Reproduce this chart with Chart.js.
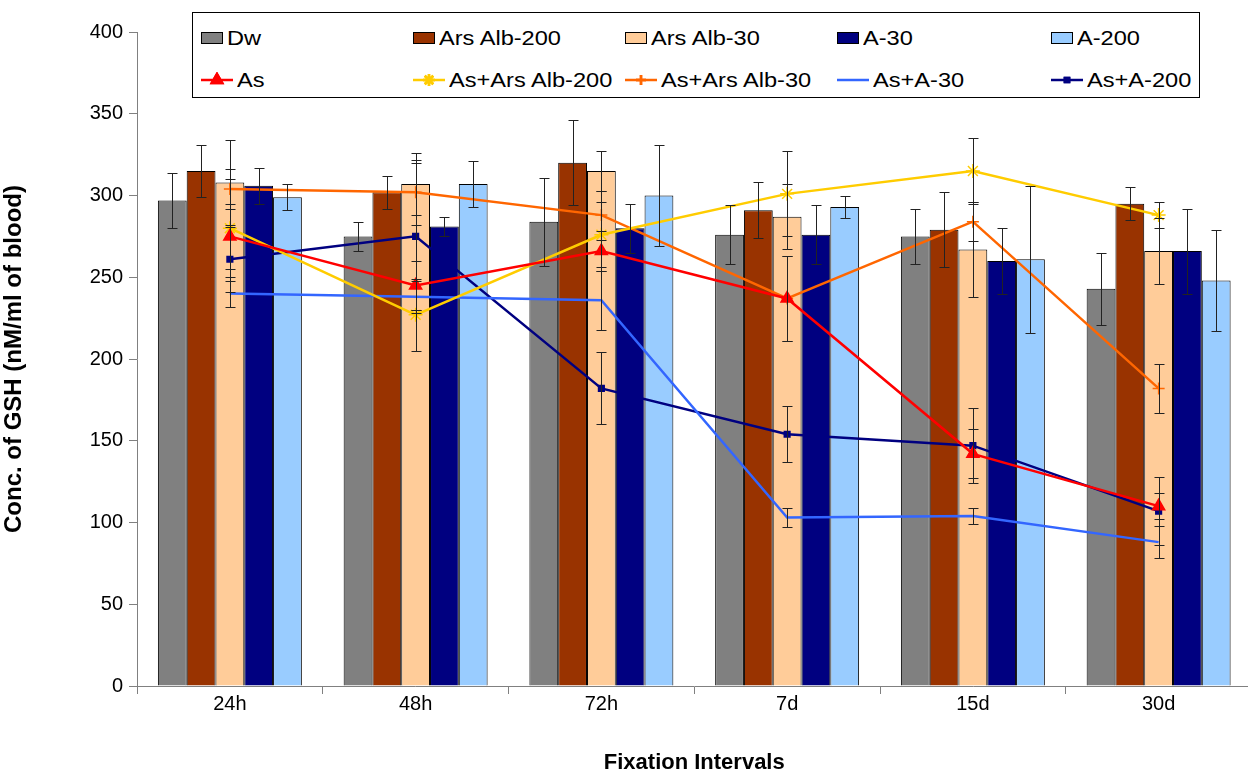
<!DOCTYPE html>
<html>
<head>
<meta charset="utf-8">
<script src="https://cdn.jsdelivr.net/npm/chart.js@4"></script>
<style>
  html, body { margin: 0; padding: 0; background: #fff; overflow: hidden; }
  #wrap { position: relative; width: 1260px; height: 776px; }
  #legend {
    position: absolute; left: 192px; top: 12px; width: 1008px; height: 86px;
    border: 1px solid #000; background: #fff; box-sizing: border-box;
    font-family: "Liberation Sans", Arial, sans-serif; font-size: 20px; color: #000;
  }
  .item { position: absolute; display: flex; align-items: center; height: 22px; white-space: nowrap; }
  .sym { display: inline-block; margin-right: 2px; }
  .txt { display: inline-block; transform: scaleX(1.18); transform-origin: left center; }
</style>
</head>
<body>
<div id="wrap">
  <canvas id="my-chart" width="1260" height="776"></canvas>
  <div id="legend"></div>
</div>
<script>
'use strict';

let categories = ['24h', '48h', '72h', '7d', '15d', '30d'];
let yTicks = [0, 50, 100, 150, 200, 250, 300, 350, 400];

// bar series
let dwValues = [297, 275, 284, 276, 275, 243];
let dwErrors = [17, 9, 27, 18, 17, 22];
let arsAlb200Values = [315, 302, 320, 291, 279, 295];
let arsAlb200Errors = [16, 10, 26, 17, 23, 10];
let arsAlb30Values = [308, 307, 315, 287, 267, 266];
let arsAlb30Errors = [26, 19, 12, 20, 29, 20];
let a30Values = [306, 281, 280, 276, 260, 266];
let a30Errors = [11, 6, 15, 18, 20, 26];
let a200Values = [299, 307, 300, 293, 261, 248];
let a200Errors = [8, 14, 31, 7, 45, 31];

// line series
let asValues = [275, 245, 266, 237, 142, 110];
let asErrors = [20, 15, 12, 26, 15, 8];
let asArsAlb200Values = [280, 227, 276, 301, 315, 288];
let asArsAlb200Errors = [30, 22, 20, 26, 20, 8];
let asArsAlb30Values = [304, 302, 288, 237, 284, 182];
let asArsAlb30Errors = [12, 20, 15, 26, 12, 15];
let asA30Values = [240, 238, 236, 103, 104, 88];
let asA30Errors = [8, 10, 18, 6, 5, 10];
let asA200Values = [261, 275, 182, 154, 147, 107];
let asA200Errors = [20, 45, 22, 17, 23, 21];

let font = '"Liberation Sans", Arial, sans-serif';

function barSet(label, data, errors, color) {
  return {
    type: 'bar', label: label, data: data, errors: errors,
    backgroundColor: color, borderColor: '#000', borderWidth: 1, order: 2
  };
}

function lineSet(label, data, errors, color, style, radius) {
  return {
    type: 'line', label: label, data: data, errors: errors,
    borderColor: color, backgroundColor: color, borderWidth: 2.5,
    pointStyle: style, pointRadius: radius, pointBorderWidth: 1.5,
    tension: 0, order: 1
  };
}

// draws the +/- whiskers through the scales
let errorBars = {
  id: 'errorBars',
  afterDatasetsDraw(chart) {
    let ctx = chart.ctx;
    let yScale = chart.scales.y;
    ctx.save();
    ctx.strokeStyle = '#222';
    ctx.lineWidth = 1;
    chart.data.datasets.forEach((ds, i) => {
      if (!ds.errors) return;
      let meta = chart.getDatasetMeta(i);
      meta.data.forEach((el, j) => {
        let v = ds.data[j];
        let e = ds.errors[j];
        let top = Math.round(yScale.getPixelForValue(v + e)) + 0.5;
        let bot = Math.round(yScale.getPixelForValue(v - e)) + 0.5;
        let x = Math.round(el.x) + 0.5;
        ctx.beginPath();
        ctx.moveTo(x, top); ctx.lineTo(x, bot);
        ctx.moveTo(x - 5, top); ctx.lineTo(x + 5, top);
        ctx.moveTo(x - 5, bot); ctx.lineTo(x + 5, bot);
        ctx.stroke();
      });
    });
    ctx.restore();
  }
};

let canvasElement = document.getElementById('my-chart');

let chartObj = {
  data: {
    labels: categories,
    datasets: [
      barSet('Dw', dwValues, dwErrors, '#808080'),
      barSet('Ars Alb-200', arsAlb200Values, arsAlb200Errors, '#993300'),
      barSet('Ars Alb-30', arsAlb30Values, arsAlb30Errors, '#FFCC99'),
      barSet('A-30', a30Values, a30Errors, '#000080'),
      barSet('A-200', a200Values, a200Errors, '#99CCFF'),
      lineSet('As', asValues, asErrors, '#FF0000', 'triangle', 7),
      lineSet('As+Ars Alb-200', asArsAlb200Values, asArsAlb200Errors, '#FFCC00', 'star', 7),
      lineSet('As+Ars Alb-30', asArsAlb30Values, asArsAlb30Errors, '#FF6600', 'cross', 6),
      lineSet('As+A-30', asA30Values, asA30Errors, '#3366FF', 'circle', 0),
      lineSet('As+A-200', asA200Values, asA200Errors, '#000080', 'rect', 4)
    ]
  },
  options: {
    responsive: false,
    animation: false,
    layout: { padding: { top: 32, right: 1, left: 0, bottom: 0 } },
    datasets: {
      bar: { categoryPercentage: 0.775, barPercentage: 1 }
    },
    plugins: {
      legend: { display: false },
      tooltip: { enabled: false }
    },
    scales: {
      x: {
        grid: { display: true, drawOnChartArea: false, offset: true, tickLength: 8, color: '#808080' },
        border: { color: '#808080' },
        ticks: { color: '#000', font: { family: font, size: 20 }, padding: -2 },
        title: {
          display: true, text: 'Fixation Intervals', color: '#000',
          font: { family: font, size: 22, weight: 'bold' }, padding: { top: 0, bottom: 0 }
        },
        afterFit(scale) { scale.height = 90; }
      },
      y: {
        min: 0, max: 400,
        afterBuildTicks(scale) { scale.ticks = yTicks.map(v => ({ value: v })); },
        grid: { display: true, drawOnChartArea: false, tickLength: 8, color: '#808080' },
        border: { color: '#808080' },
        ticks: { color: '#000', font: { family: font, size: 20 }, padding: 6 },
        title: {
          display: true, text: 'Conc. of GSH (nM/ml of blood)', color: '#000',
          font: { family: font, size: 24, weight: 'bold' }, padding: { top: 0, bottom: 0 }
        },
        afterFit(scale) { scale.width = 137; }
      }
    }
  },
  plugins: [errorBars]
};

let chart = new Chart(canvasElement, chartObj);//eslint-disable-line

// legend in a boxed 5 x 2 grid like the original
function buildLegend() {
  let box = document.getElementById('legend');
  let cols = [6, 218, 430, 642, 856];
  chart.data.datasets.forEach((ds, i) => {
    let row = i < 5 ? 0 : 1;
    let col = i % 5;
    let item = document.createElement('div');
    item.className = 'item';
    item.style.left = cols[col] + 'px';
    item.style.top = (row === 0 ? 14 : 56) + 'px';
    let sym = document.createElement('canvas');
    sym.className = 'sym';
    sym.width = 36; sym.height = 16;
    let c = sym.getContext('2d');
    if (ds.type === 'bar') {
      sym.width = 26;
      c = sym.getContext('2d');
      c.fillStyle = ds.backgroundColor;
      c.fillRect(2, 2, 22, 12);
      c.strokeStyle = '#000';
      c.lineWidth = 1;
      c.strokeRect(2.5, 2.5, 21, 11);
    } else {
      c.strokeStyle = ds.borderColor;
      c.lineWidth = 2.5;
      c.beginPath(); c.moveTo(2, 8); c.lineTo(34, 8); c.stroke();
      if (ds.pointRadius > 0) {
        Chart.helpers.drawPoint(c, {//eslint-disable-line
          pointStyle: ds.pointStyle, radius: ds.pointRadius - 1, borderWidth: 1.5, rotation: 0
        }, 18, 8);
        c.fillStyle = ds.backgroundColor;
        c.fill();
        c.stroke();
      }
    }
    let txt = document.createElement('span');
    txt.className = 'txt';
    txt.textContent = ds.label;
    item.appendChild(sym);
    item.appendChild(txt);
    box.appendChild(item);
  });
}

buildLegend();
</script>
</body>
</html>
